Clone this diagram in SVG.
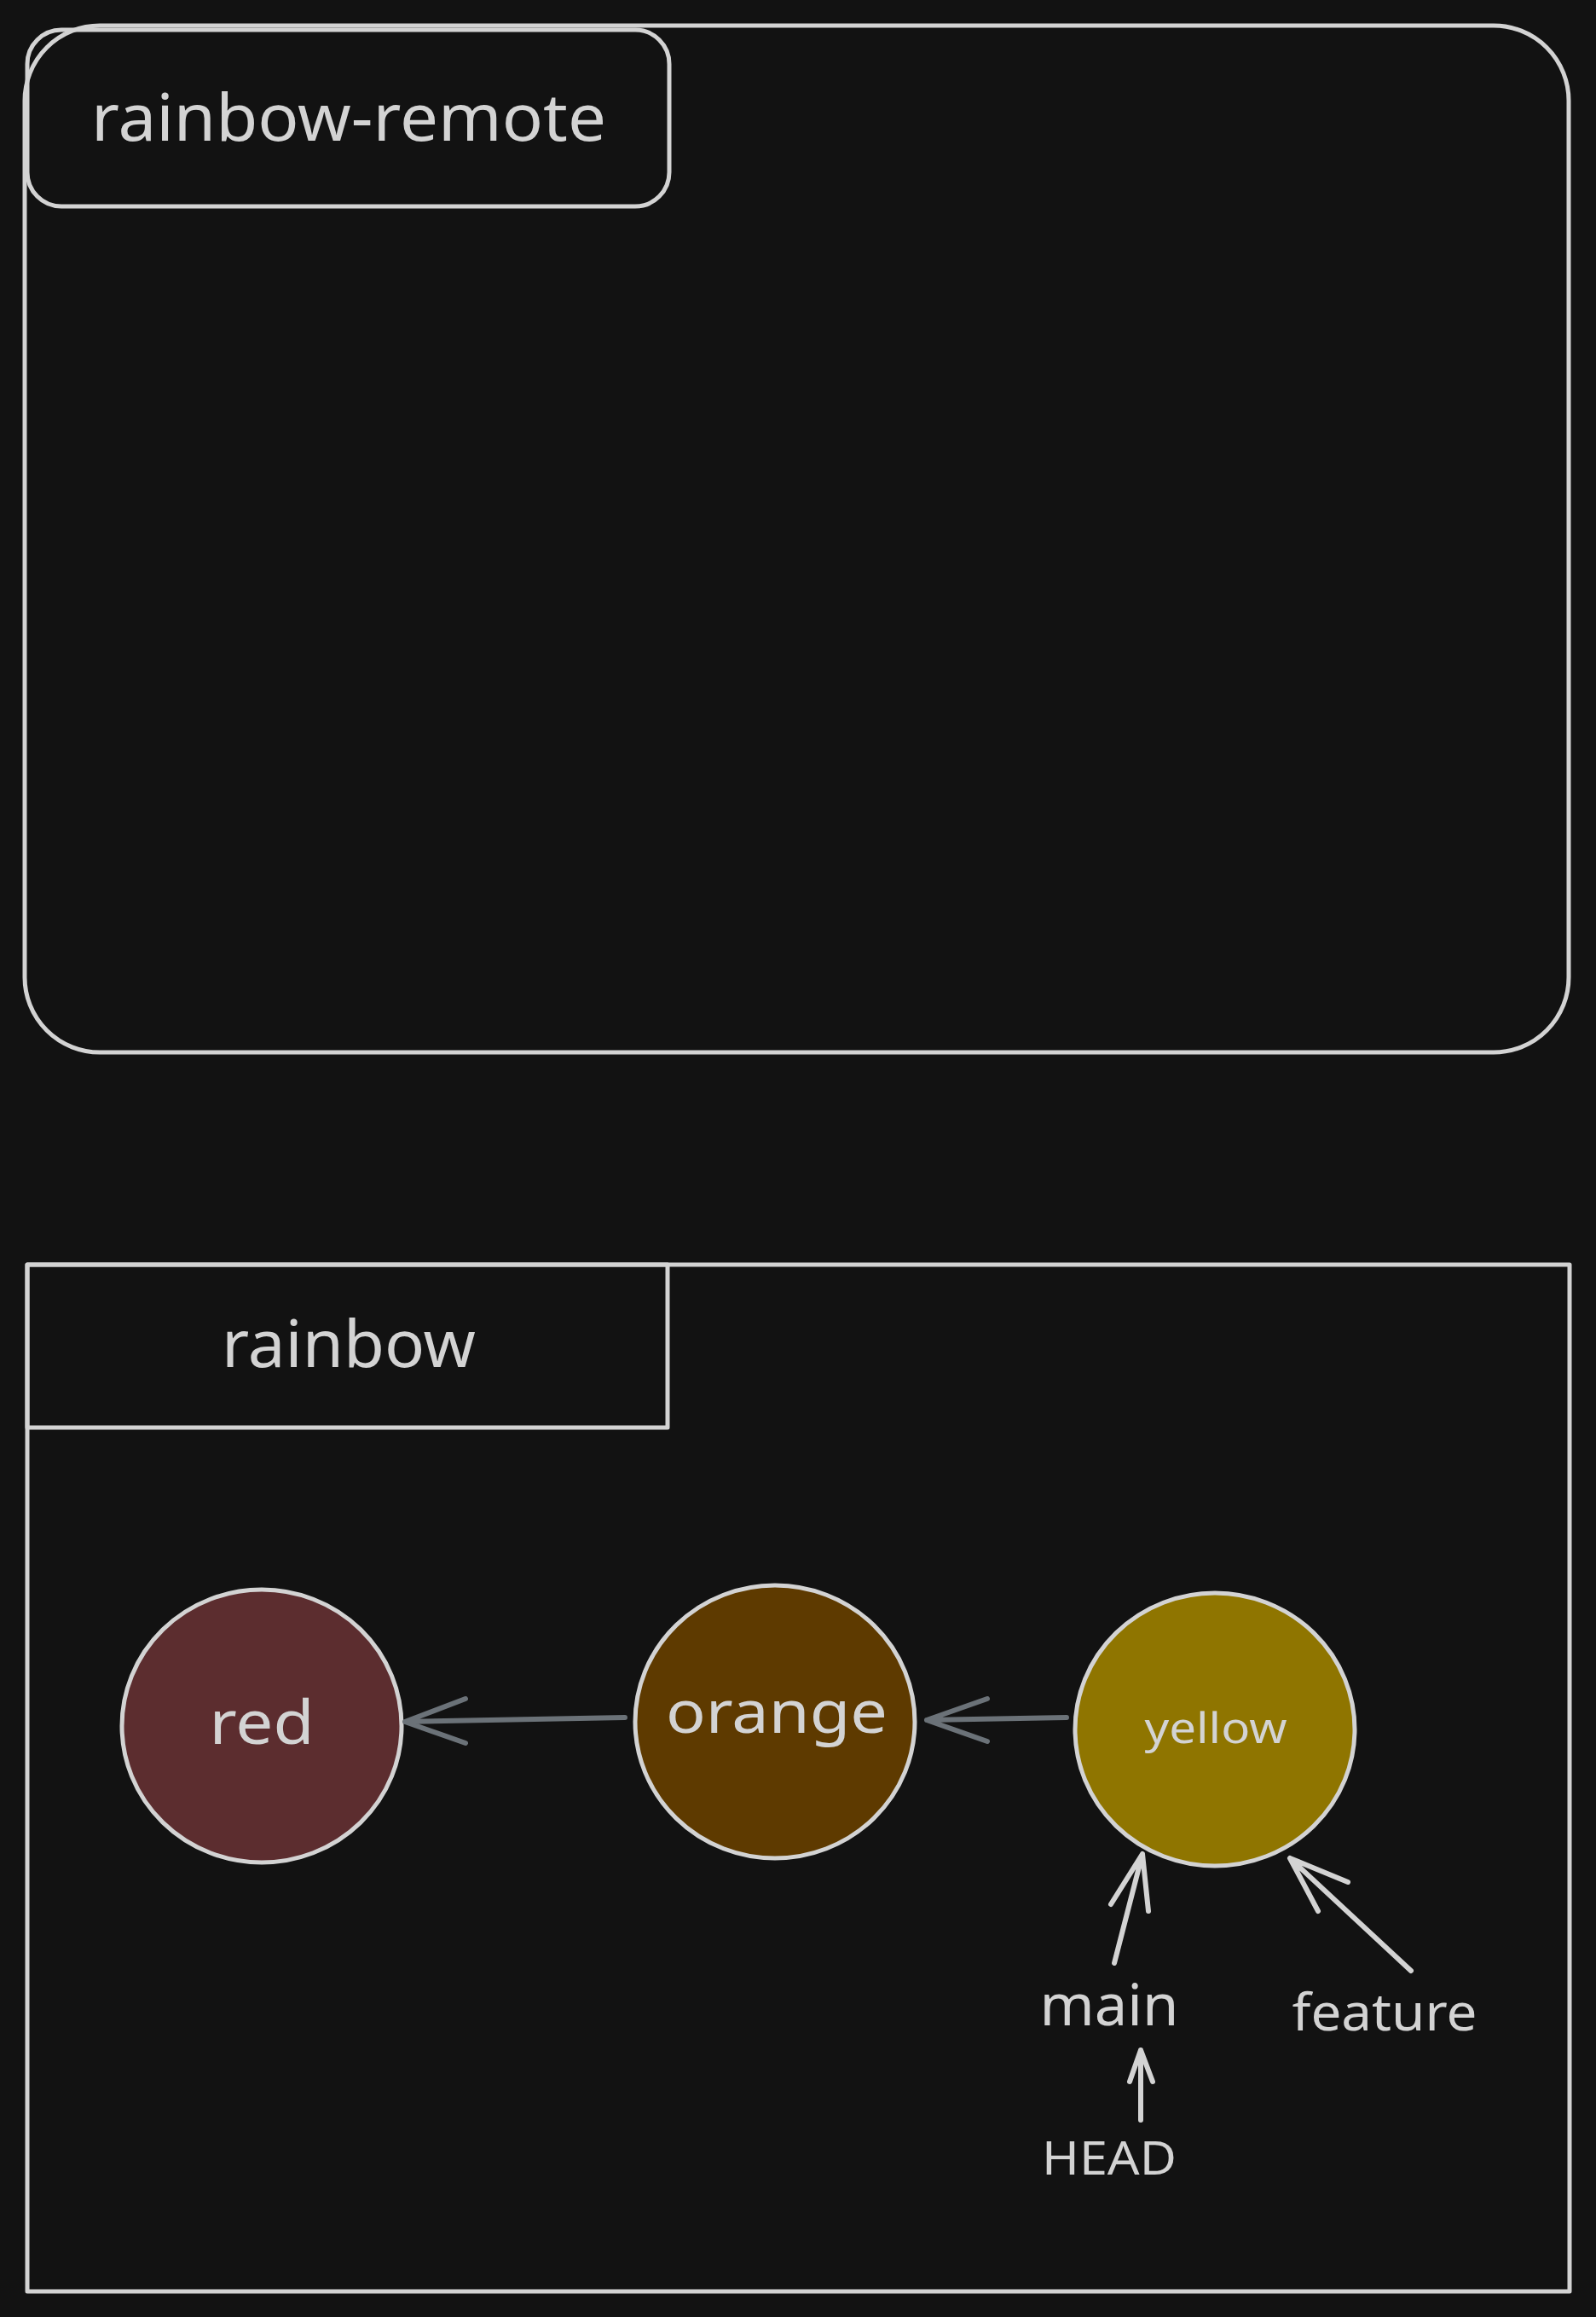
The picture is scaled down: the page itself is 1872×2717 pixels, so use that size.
<svg xmlns="http://www.w3.org/2000/svg" width="1872" height="2717" viewBox="0 0 1872 2717">
<style>
.bx{fill:none;stroke:#d3d3d3;stroke-width:5;stroke-linejoin:round}
.t{fill:#d3d3d3;font-family:"Noto Sans","DejaVu Sans",sans-serif;text-anchor:middle}
.c{stroke:#d3d3d3;stroke-width:5}
.ga{fill:none;stroke:#6b7278;stroke-width:6;stroke-linecap:round;stroke-linejoin:round}
.wa{fill:none;stroke:#d3d3d3;stroke-width:6;stroke-linecap:round;stroke-linejoin:round}
</style>
<rect width="1872" height="2717" fill="#121212"/>
<g id="rainbow-remote">
<rect class="bx" x="29" y="30" width="1811" height="1204" rx="88" ry="88"/>
<rect class="bx" x="32" y="35" width="753" height="207" rx="40" ry="40"/>
<text class="t" x="409" y="165" font-size="76" textLength="604" lengthAdjust="spacingAndGlyphs">rainbow-remote</text>
</g>
<g id="rainbow">
<rect class="bx" x="32" y="1483" width="1809" height="1204"/>
<rect class="bx" x="32" y="1483" width="751" height="191"/>
<text class="t" x="409" y="1603" font-size="76" textLength="298" lengthAdjust="spacingAndGlyphs">rainbow</text>
</g>
<g id="red">
<ellipse class="c" cx="307" cy="2024" rx="164" ry="160" fill="#5c2d2f"/>
<text class="t" x="307" y="2045" font-size="72" textLength="123" lengthAdjust="spacingAndGlyphs">red</text>
</g>
<g id="orange">
<ellipse class="c" cx="909" cy="2019" rx="164" ry="160" fill="#5e3a00"/>
<text class="t" x="911" y="2032" font-size="70" textLength="260" lengthAdjust="spacingAndGlyphs">orange</text>
</g>
<g id="yellow">
<ellipse class="c" cx="1425" cy="2028" rx="164" ry="160" fill="#8f7500"/>
<text class="t" x="1426" y="2044" font-size="50" textLength="167" lengthAdjust="spacingAndGlyphs">yellow</text>
</g>
<g id="main">
<text class="t" x="1301" y="2375" font-size="68" textLength="163" lengthAdjust="spacingAndGlyphs">main</text>
</g>
<g id="feature">
<text class="t" x="1624" y="2381" font-size="60" textLength="217" lengthAdjust="spacingAndGlyphs">feature</text>
</g>
<g id="HEAD">
<text class="t" x="1301" y="2550" font-size="54" textLength="158" lengthAdjust="spacingAndGlyphs">HEAD</text>
</g>
<g id="connectors">
<path class="ga" d="M733 2014 L475 2019 M546 1992 L475 2019 L546 2044"/>
<path class="ga" d="M1251 2014 L1087 2017 M1158 1992 L1087 2017 L1158 2042"/>
<path class="wa" d="M1307 2302 L1340 2174 M1303 2233 L1340 2174 L1347 2241"/>
<path class="wa" d="M1655 2311 L1513 2179 M1581 2207 L1513 2179 L1546 2241"/>
<path class="wa" d="M1338 2486 L1338 2404 M1325 2441 L1338 2404 L1352 2441"/>
</g>
</svg>
